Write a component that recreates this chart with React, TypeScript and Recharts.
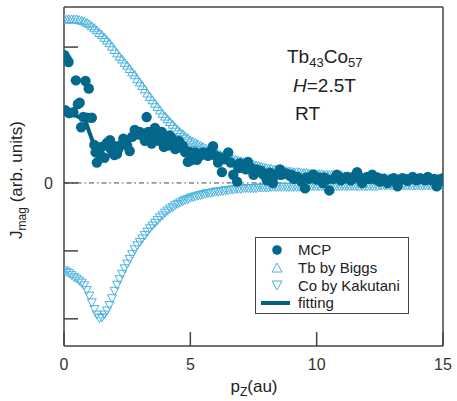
import React from 'react';
import { ComposedChart, Scatter, Line, XAxis, YAxis, ReferenceLine } from 'recharts';

// momentum grid of the calculated profiles (au)
const pz = [
  0, 0.1, 0.2, 0.3, 0.4, 0.5, 0.6, 0.7, 0.8, 0.9,
  1, 1.1, 1.2, 1.3, 1.4, 1.5, 1.6, 1.7, 1.8, 1.9,
  2, 2.1, 2.2, 2.3, 2.4, 2.5, 2.6, 2.7, 2.8, 2.9,
  3, 3.1, 3.2, 3.3, 3.4, 3.5, 3.6, 3.7, 3.8, 3.9,
  4, 4.1, 4.2, 4.3, 4.4, 4.5, 4.6, 4.7, 4.8, 4.9,
  5, 5.1, 5.2, 5.3, 5.4, 5.5, 5.6, 5.7, 5.8, 5.9,
  6, 6.1, 6.2, 6.3, 6.4, 6.5, 6.6, 6.7, 6.8, 6.9,
  7, 7.1, 7.2, 7.3, 7.4, 7.5, 7.6, 7.7, 7.8, 7.9,
  8, 8.1, 8.2, 8.3, 8.4, 8.5, 8.6, 8.7, 8.8, 8.9,
  9, 9.1, 9.2, 9.3, 9.4, 9.5, 9.6, 9.7, 9.8, 9.9,
  10, 10.1, 10.2, 10.3, 10.4, 10.5, 10.6, 10.7, 10.8, 10.9,
  11, 11.1, 11.2, 11.3, 11.4, 11.5, 11.6, 11.7, 11.8, 11.9,
  12, 12.1, 12.2, 12.3, 12.4, 12.5, 12.6, 12.7, 12.8, 12.9,
  13, 13.1, 13.2, 13.3, 13.4, 13.5, 13.6, 13.7, 13.8, 13.9,
  14, 14.1, 14.2, 14.3, 14.4, 14.5, 14.6, 14.7, 14.8, 14.9,
  15,
];

// Tb by Biggs
const tbBiggs = [
  2.40, 2.40, 2.40, 2.40, 2.40, 2.40, 2.39, 2.38, 2.37, 2.35,
  2.33, 2.30, 2.27, 2.24, 2.20, 2.17, 2.13, 2.09, 2.05, 2.00,
  1.95, 1.90, 1.85, 1.81, 1.76, 1.72, 1.67, 1.62, 1.58, 1.52,
  1.47, 1.42, 1.37, 1.31, 1.26, 1.21, 1.16, 1.11, 1.06, 1.01,
  0.97, 0.93, 0.89, 0.85, 0.81, 0.77, 0.74, 0.71, 0.68, 0.65,
  0.62, 0.60, 0.58, 0.56, 0.54, 0.52, 0.50, 0.48, 0.46, 0.45,
  0.43, 0.42, 0.40, 0.39, 0.38, 0.36, 0.35, 0.34, 0.33, 0.32,
  0.31, 0.30, 0.29, 0.28, 0.27, 0.26, 0.25, 0.24, 0.23, 0.22,
  0.21, 0.20, 0.20, 0.19, 0.19, 0.18, 0.18, 0.17, 0.17, 0.16,
  0.16, 0.15, 0.15, 0.15, 0.14, 0.14, 0.14, 0.13, 0.13, 0.13,
  0.12, 0.12, 0.12, 0.11, 0.11, 0.11, 0.11, 0.10, 0.10, 0.10,
  0.10, 0.09, 0.09, 0.09, 0.09, 0.09, 0.09, 0.08, 0.08, 0.08,
  0.08, 0.08, 0.07, 0.07, 0.07, 0.07, 0.07, 0.07, 0.06, 0.06,
  0.06, 0.06, 0.06, 0.06, 0.06, 0.06, 0.06, 0.05, 0.05, 0.05,
  0.05, 0.05, 0.05, 0.05, 0.05, 0.05, 0.05, 0.04, 0.04, 0.04,
  0.04,
];

// Co by Kakutani
const coKakutani = [
  -1.28, -1.30, -1.32, -1.35, -1.38, -1.40, -1.43, -1.46, -1.50, -1.57,
  -1.65, -1.75, -1.85, -1.93, -1.98, -1.97, -1.93, -1.87, -1.79, -1.69,
  -1.58, -1.49, -1.41, -1.33, -1.25, -1.18, -1.11, -1.04, -0.97, -0.91,
  -0.86, -0.81, -0.76, -0.71, -0.66, -0.62, -0.58, -0.54, -0.50, -0.47,
  -0.43, -0.40, -0.37, -0.35, -0.32, -0.30, -0.28, -0.26, -0.24, -0.23,
  -0.21, -0.20, -0.19, -0.18, -0.17, -0.16, -0.15, -0.14, -0.14, -0.13,
  -0.12, -0.12, -0.11, -0.11, -0.10, -0.10, -0.09, -0.09, -0.08, -0.08,
  -0.08, -0.07, -0.07, -0.07, -0.07, -0.07, -0.07, -0.06, -0.06, -0.06,
  -0.06, -0.06, -0.05, -0.05, -0.05, -0.05, -0.05, -0.05, -0.05, -0.05,
  -0.05, -0.05, -0.05, -0.05, -0.05, -0.04, -0.04, -0.04, -0.04, -0.04,
  -0.04, -0.04, -0.04, -0.04, -0.04, -0.04, -0.04, -0.04, -0.04, -0.04,
  -0.04, -0.04, -0.04, -0.04, -0.04, -0.04, -0.04, -0.04, -0.04, -0.04,
  -0.04, -0.04, -0.04, -0.04, -0.04, -0.03, -0.03, -0.03, -0.03, -0.03,
  -0.03, -0.03, -0.03, -0.03, -0.03, -0.03, -0.03, -0.03, -0.03, -0.03,
  -0.03, -0.03, -0.03, -0.03, -0.03, -0.03, -0.03, -0.03, -0.03, -0.03,
  -0.03,
];

// MCP measurement
const mcpX = [
  0.02, 0.1, 0.18, 0.47, 0.85, 0.98, 0.05, 0.2, 0.37, 0.55, 0.62, 0.68, 0.76, 0.9, 1.1,
  1.2, 1.25, 1.3, 1.38, 1.45, 1.5, 1.6, 1.7, 1.75, 1.82, 1.85, 1.95, 2.0, 2.1, 2.15,
  2.2, 2.35, 2.45, 2.5, 2.6, 2.7, 2.8, 2.9, 3.0, 3.1, 3.2, 3.27, 3.33, 3.4, 3.47, 3.55, 3.6,
  3.7, 3.75, 3.8, 3.87, 3.95, 4.07, 4.1, 4.17, 4.27, 4.33, 4.4, 4.47, 4.55, 4.6, 4.7, 4.8,
  4.9, 5.0, 5.1, 5.2, 5.26, 5.38, 5.5, 5.6, 5.7, 5.78, 5.9, 6.0, 6.1, 6.15, 6.25, 6.35, 6.5,
  6.6, 6.7, 6.85, 6.9, 6.96, 7.1, 7.2, 7.28, 7.36, 7.5, 7.62, 7.75, 7.8, 7.9, 8.03, 8.1,
  8.15, 8.27, 8.4, 8.55, 8.6, 8.7, 8.8, 8.95, 9.0, 9.1, 9.25, 9.4, 9.54, 9.6, 9.7, 9.86,
  10.0, 10.1, 10.25, 10.3, 10.4, 10.5, 10.65, 10.8, 10.9, 10.95, 11.0, 11.1, 11.2, 11.35,
  11.45, 11.5, 11.6, 11.7, 11.8, 11.9, 12.0, 12.1, 12.2, 12.35, 12.4, 12.5, 12.65, 12.8,
  12.95, 13.05, 13.1, 13.2, 13.3, 13.4, 13.55, 13.6, 13.7, 13.8, 13.95, 14.0, 14.1, 14.25,
  14.3, 14.4, 14.55, 14.65, 14.75, 14.85, 14.9, 15.0,
];
const mcpY = [
  1.88, 1.83, 1.78, 1.51, 1.50, 1.39, 1.07, 1.03, 1.04, 1.16, 1.18, 0.82, 0.97, 0.96, 0.96,
  0.56, 0.45, 0.30, 0.52, 0.40, 0.53, 0.37, 0.59, 0.60, 0.63, 0.50, 0.55, 0.41, 0.43, 0.50,
  0.55, 0.65, 0.60, 0.55, 0.47, 0.68, 0.78, 0.72, 0.75, 0.70, 0.62, 0.97, 0.75, 0.68, 0.58, 0.70, 0.81,
  0.76, 0.62, 0.68, 0.75, 0.53, 0.62, 0.55, 0.70, 0.66, 0.60, 0.50, 0.59, 0.62, 0.52, 0.55, 0.45,
  0.31, 0.33, 0.38, 0.45, 0.34, 0.40, 0.45, 0.42, 0.40, 0.46, 0.54, 0.40, 0.30, 0.38, 0.16, 0.35, 0.45,
  0.30, 0.12, 0.02, 0.22, 0.29, 0.22, 0.20, 0.31, 0.24, 0.12, 0.20, 0.16, 0.18, 0.12, 0.04, 0.10,
  0.15, 0.00, 0.12, 0.20, 0.12, 0.14, 0.14, 0.10, 0.12, 0.06, 0.09, 0.02, -0.08, 0.08, 0.06, 0.12,
  0.05, 0.08, 0.00, 0.08, 0.05, -0.11, 0.06, 0.12, 0.08, 0.04, 0.06, 0.07, 0.09, 0.04,
  0.07, 0.10, 0.16, 0.08, 0.00, 0.05, 0.09, 0.06, 0.12, 0.05, 0.08, 0.02, 0.06, 0.00,
  0.05, 0.07, 0.04, -0.05, 0.04, 0.07, 0.05, 0.03, 0.06, 0.09, 0.04, 0.06, 0.07, 0.05,
  0.04, 0.09, 0.04, 0.06, -0.05, 0.05, 0.03, 0.07,
];

// fitting curve
const fitX = [
  0, 0.2, 0.4, 0.6, 0.8, 0.9, 1.0, 1.1, 1.2, 1.3, 1.36, 1.5, 1.6, 1.7, 1.8, 1.9, 2.0,
  2.2, 2.4, 2.6, 2.8, 3.0, 3.3, 3.6, 4.0, 4.5, 5.0, 5.5, 6.0, 6.5, 7.0, 7.5, 8.0, 8.5,
  9.0, 10, 11, 12, 13, 14, 15,
];
const fitY = [
  1.07, 1.04, 1.0, 0.97, 0.93, 0.86, 0.75, 0.65, 0.54, 0.43, 0.36, 0.35, 0.36, 0.38, 0.41, 0.45, 0.49,
  0.57, 0.62, 0.65, 0.67, 0.67, 0.66, 0.65, 0.62, 0.56, 0.50, 0.45, 0.40, 0.34, 0.27, 0.20, 0.15, 0.12,
  0.10, 0.08, 0.06, 0.05, 0.04, 0.03, 0.02,
];

const xTicks = [0, 5, 10, 15];
const yTicks = [-2, -1, 0, 1, 2];

const MCP_COLOR = '#03688c';
const FIT_COLOR = '#055f7f';
const CALC_COLOR = '#49b3de';
const AXIS_COLOR = '#444';
const FONT = '"Liberation Sans", Arial, sans-serif';

const tbData = pz.map((x, i) => ({ x, y: tbBiggs[i] }));
const coData = pz.map((x, i) => ({ x, y: coKakutani[i] }));
const mcpData = mcpX.map((x, i) => ({ x, y: mcpY[i] }));
const fitData = fitX.map((x, i) => ({ x, y: fitY[i] }));

const UpTriangle = (props: any) => {
  const { cx, cy } = props;
  if (cx == null || cy == null) return null;
  return (
    <polygon
      points={`${cx},${cy - 5} ${cx - 4.5},${cy + 3} ${cx + 4.5},${cy + 3}`}
      fill="none"
      stroke={CALC_COLOR}
      strokeWidth={1}
    />
  );
};

const DownTriangle = (props: any) => {
  const { cx, cy } = props;
  if (cx == null || cy == null) return null;
  return (
    <polygon
      points={`${cx},${cy + 5} ${cx - 4.5},${cy - 3} ${cx + 4.5},${cy - 3}`}
      fill="none"
      stroke={CALC_COLOR}
      strokeWidth={1}
    />
  );
};

const Dot = (props: any) => {
  const { cx, cy } = props;
  if (cx == null || cy == null) return null;
  return <circle cx={cx} cy={cy} r={5.2} fill={MCP_COLOR} />;
};

const legendRows = [
  { label: 'MCP', kind: 'dot' },
  { label: 'Tb by Biggs', kind: 'up' },
  { label: 'Co by Kakutani', kind: 'down' },
  { label: 'fitting', kind: 'line' },
];

const LegendMarker = ({ kind }: { kind: string }) => (
  <svg width={34} height={18} style={{ display: 'block' }}>
    {kind === 'dot' && <circle cx={21} cy={9} r={4.8} fill={MCP_COLOR} />}
    {kind === 'up' && (
      <polygon points="21,4 16,13 26,13" fill="none" stroke={CALC_COLOR} strokeWidth={1} />
    )}
    {kind === 'down' && (
      <polygon points="21,14 16,5 26,5" fill="none" stroke={CALC_COLOR} strokeWidth={1} />
    )}
    {kind === 'line' && <line x1={5} y1={9} x2={36} y2={9} stroke={FIT_COLOR} strokeWidth={4} />}
  </svg>
);

export default function App() {
  return (
    <div style={{ position: 'absolute', left: 0, top: 0, width: 457, height: 401, background: '#fff', fontFamily: FONT }}>
      <ComposedChart width={457} height={401} margin={{ top: 6, right: 13, bottom: 54, left: 63 }}>
        <XAxis
          xAxisId="b"
          dataKey="x"
          type="number"
          domain={[0, 15]}
          ticks={xTicks}
          height={1}
          tickSize={-14}
          tickMargin={27}
          stroke={AXIS_COLOR}
          strokeWidth={1.5}
          tick={{ fill: '#333', fontSize: 16, fontFamily: FONT }}
          allowDataOverflow
        />
        <XAxis
          xAxisId="t"
          orientation="top"
          dataKey="x"
          type="number"
          domain={[0, 15]}
          ticks={xTicks}
          height={1}
          tickSize={-14}
          tick={false}
          stroke={AXIS_COLOR}
          strokeWidth={1.5}
          allowDataOverflow
        />
        <YAxis
          yAxisId="l"
          dataKey="y"
          type="number"
          domain={[-2.4, 2.59]}
          ticks={yTicks}
          width={1}
          tickSize={-14}
          tickMargin={25}
          tickFormatter={(v: number) => (v === 0 ? '0' : '')}
          stroke={AXIS_COLOR}
          strokeWidth={1.5}
          tick={{ fill: '#333', fontSize: 16, fontFamily: FONT }}
          allowDataOverflow
        />
        <YAxis
          yAxisId="r"
          orientation="right"
          dataKey="y"
          type="number"
          domain={[-2.4, 2.59]}
          ticks={yTicks}
          width={1}
          tickSize={-14}
          tick={false}
          stroke={AXIS_COLOR}
          strokeWidth={1.5}
          allowDataOverflow
        />
        <ReferenceLine
          xAxisId="b"
          yAxisId="l"
          y={0}
          stroke={AXIS_COLOR}
          strokeWidth={1}
          strokeDasharray="5 3 1.5 3"
        />
        <Scatter xAxisId="b" yAxisId="l" data={tbData} dataKey="y" shape={UpTriangle} isAnimationActive={false} />
        <Scatter xAxisId="b" yAxisId="l" data={coData} dataKey="y" shape={DownTriangle} isAnimationActive={false} />
        <Scatter xAxisId="b" yAxisId="l" data={mcpData} dataKey="y" shape={Dot} isAnimationActive={false} />
        <Line
          xAxisId="b"
          yAxisId="l"
          data={fitData}
          dataKey="y"
          type="linear"
          stroke={FIT_COLOR}
          strokeWidth={4}
          dot={false}
          isAnimationActive={false}
        />
      </ComposedChart>

      {/* annotation */}
      <div style={{ position: 'absolute', left: 287, top: 47, fontSize: 19, lineHeight: '19px', color: '#222', whiteSpace: 'nowrap' }}>
        Tb<span style={{ fontSize: 13, verticalAlign: -4 }}>43</span>Co<span style={{ fontSize: 13, verticalAlign: -4 }}>57</span>
      </div>
      <div style={{ position: 'absolute', left: 293, top: 76, fontSize: 19, lineHeight: '19px', color: '#222', whiteSpace: 'nowrap' }}>
        <i>H</i>=2.5T
      </div>
      <div style={{ position: 'absolute', left: 295, top: 104, fontSize: 19, lineHeight: '19px', color: '#222', whiteSpace: 'nowrap' }}>
        RT
      </div>

      {/* legend */}
      <div
        style={{
          position: 'absolute',
          left: 255,
          top: 237,
          width: 154,
          height: 77,
          border: `1px solid ${AXIS_COLOR}`,
          background: '#fff',
          boxSizing: 'border-box',
          paddingTop: 3,
        }}
      >
        {legendRows.map((r) => (
          <div key={r.label} style={{ display: 'flex', alignItems: 'center', height: 17.7 }}>
            <LegendMarker kind={r.kind} />
            <span style={{ marginLeft: 8, fontSize: 15, lineHeight: '15px', color: '#222', whiteSpace: 'nowrap' }}>{r.label}</span>
          </div>
        ))}
      </div>

      {/* axis titles */}
      <div
        style={{
          position: 'absolute',
          left: 254,
          top: 378,
          transform: 'translateX(-50%)',
          fontSize: 17,
          lineHeight: '17px',
          color: '#222',
          whiteSpace: 'nowrap',
        }}
      >
        p<span style={{ fontSize: 12, verticalAlign: -4 }}>Z</span>(au)
      </div>
      <div
        style={{
          position: 'absolute',
          left: 19,
          top: 180,
          transform: 'translate(-50%, -50%) rotate(-90deg)',
          fontSize: 17,
          lineHeight: '17px',
          color: '#222',
          whiteSpace: 'nowrap',
        }}
      >
        J<span style={{ fontSize: 12, verticalAlign: -4 }}>mag</span> (arb. units)
      </div>
    </div>
  );
}
